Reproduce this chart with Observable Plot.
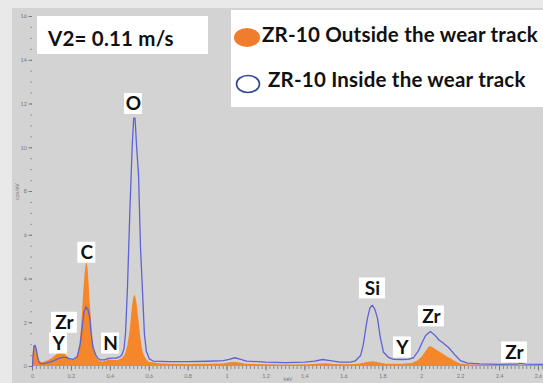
<!DOCTYPE html>
<html><head><meta charset="utf-8">
<script src="https://cdn.jsdelivr.net/npm/d3@7"></script>
<script src="https://cdn.jsdelivr.net/npm/@observablehq/plot@0.6"></script>
<style>
html,body{margin:0;padding:0;background:#fff;}
#wrap{position:relative;width:543px;height:383px;overflow:hidden;font-family:Lato,"Open Sans",sans-serif;
  background:linear-gradient(#e9e9e9,#e9e9e9) 0 0/12px 100% no-repeat,linear-gradient(#e9e9e9,#e9e9e9) 0 0/100% 8px no-repeat,#d3d3d3;}
#wrap > svg.main{display:block;}
.t{position:absolute;z-index:3;font-weight:700;font-size:20.5px;line-height:20.5px;letter-spacing:0.2px;color:#111;white-space:nowrap;}
</style></head><body><div id="wrap"></div>
<script>
// ---- data (energy in keV, intensity in cps/eV) ----
const outsideKeV = [0,0.003,0.008,0.013,0.018,0.025,0.032,0.04,0.05,0.06,0.08,0.1,0.12,0.135,0.15,0.165,0.18,0.2,0.215,0.225,0.235,0.245,0.25,0.255,0.26,0.265,0.27,0.275,0.28,0.285,0.29,0.295,0.3,0.305,0.31,0.32,0.33,0.34,0.36,0.38,0.39,0.4,0.42,0.44,0.46,0.47,0.48,0.49,0.5,0.505,0.51,0.515,0.52,0.525,0.53,0.535,0.54,0.545,0.55,0.555,0.56,0.565,0.57,0.58,0.59,0.6,0.65,0.7,0.8,0.9,0.98,1.01,1.04,1.07,1.1,1.2,1.3,1.42,1.48,1.51,1.55,1.62,1.68,1.72,1.75,1.78,1.82,1.9,1.95,1.98,2.0,2.02,2.035,2.045,2.06,2.08,2.105,2.13,2.15,2.17,2.2,2.25,2.4,2.5,2.626];
const outsideCps = [0,0.5,0.92,0.95,0.85,0.55,0.3,0.2,0.18,0.2,0.26,0.35,0.5,0.6,0.65,0.6,0.45,0.3,0.27,0.35,0.6,1.1,1.6,2.2,2.9,3.6,4.2,4.6,4.75,4.5,3.9,3.1,2.5,1.9,1.3,0.7,0.4,0.27,0.2,0.24,0.3,0.3,0.27,0.27,0.35,0.45,0.6,0.95,1.5,1.9,2.4,2.8,3.1,3.25,3.2,3.0,2.65,2.25,1.85,1.45,1.1,0.8,0.6,0.4,0.28,0.2,0.13,0.1,0.09,0.1,0.12,0.16,0.2,0.15,0.1,0.08,0.07,0.08,0.12,0.13,0.09,0.08,0.1,0.18,0.22,0.17,0.1,0.1,0.14,0.25,0.4,0.65,0.85,0.92,0.85,0.73,0.6,0.45,0.35,0.24,0.12,0.07,0.05,0.06,0.05];

const insideKeV = [0,0.003,0.008,0.013,0.018,0.025,0.032,0.04,0.05,0.07,0.09,0.11,0.13,0.15,0.17,0.19,0.21,0.23,0.245,0.252,0.258,0.265,0.275,0.285,0.295,0.3,0.31,0.324,0.335,0.35,0.37,0.39,0.41,0.43,0.45,0.46,0.47,0.478,0.488,0.5,0.512,0.52,0.527,0.535,0.545,0.555,0.565,0.575,0.585,0.6,0.62,0.7,0.8,0.9,0.98,1.01,1.04,1.07,1.1,1.2,1.3,1.4,1.45,1.49,1.53,1.58,1.634,1.66,1.686,1.7,1.71,1.721,1.735,1.747,1.76,1.773,1.788,1.804,1.829,1.855,1.9,1.93,1.958,1.984,2.0,2.02,2.045,2.071,2.09,2.107,2.138,2.174,2.199,2.235,2.3,2.4,2.49,2.51,2.53,2.626];
const insideCps = [0,0.5,0.95,0.97,0.85,0.5,0.25,0.14,0.12,0.15,0.2,0.27,0.35,0.42,0.42,0.36,0.33,0.45,1.0,1.5,2.0,2.5,2.72,2.6,2.2,1.6,0.9,0.55,0.38,0.3,0.3,0.37,0.38,0.38,0.45,0.55,0.8,1.5,3.6,7.0,10.0,11.35,11.35,10.05,8.75,5.45,3.5,1.5,0.7,0.35,0.25,0.22,0.22,0.24,0.27,0.33,0.4,0.33,0.25,0.2,0.18,0.2,0.25,0.32,0.27,0.2,0.2,0.26,0.5,1.0,1.6,2.2,2.7,2.8,2.6,2.2,1.3,0.65,0.42,0.33,0.32,0.33,0.4,0.73,1.05,1.42,1.6,1.4,1.2,1.1,0.87,0.5,0.27,0.15,0.12,0.1,0.11,0.14,0.11,0.1];

const peakNames = ["Y","Zr","C","N","O","Si","Y","Zr","Zr"];
const peakKeV   = [0.134,0.164,0.279,0.401,0.519,1.747,1.901,2.050,2.477];
const peakCps   = [1.05,2.0,5.2,1.05,12.0,3.57,0.87,2.29,0.64];

const xMajorTicks = d3.range(0, 14).map(i => i / 5);
const xMinorTicks = d3.range(0, 132).map(i => i / 50);
const yMajorTicks = d3.range(0, 9).map(i => i * 2);
const yMinorTicks = d3.range(0, 33).map(i => i / 2);

const legendLabels = ["ZR-10 Outside the wear track", "ZR-10 Inside the wear track"];
const speedLabel = "V2= 0.11 m/s";

const ORANGE = "#f5862a", BLUE = "#5f62d6";
const short = peakNames.map(n => n.length === 1);
const long = peakNames.map(n => n.length > 1);

const chart = Plot.plot({
  width: 543, height: 383,
  marginLeft: 32, marginRight: 0, marginTop: 16, marginBottom: 17,
  x: {domain: [0, 2.626]},
  y: {domain: [0, 16]},
  className: "main",
  style: {background: "transparent", fontFamily: "Lato, sans-serif", overflow: "visible"},
  marks: [
    Plot.axisY({ticks: yMinorTicks, tickSize: 1.5, text: null, stroke: "#8a8a8a", label: null}),
    Plot.axisY({ticks: yMajorTicks, tickSize: 3.5, tickPadding: 2, fontSize: 5.5, color: "#7a7a7a",
      label: "cps/eV", labelAnchor: "center", labelOffset: 17, labelArrow: false}),
    Plot.axisX({ticks: xMinorTicks, tickSize: 3, text: null, stroke: "#8a8a8a", label: null}),
    Plot.axisX({ticks: xMajorTicks, tickSize: 4.5, tickPadding: 3, fontSize: 5.5, color: "#7a7a7a",
      tickFormat: d => d3.format("~g")(+d.toFixed(1)),
      label: "keV", labelAnchor: "center", labelOffset: 14, labelArrow: false}),
    Plot.areaY(outsideKeV, {x: outsideKeV, y: outsideCps, fill: ORANGE}),
    Plot.lineY(insideKeV, {x: insideKeV, y: insideCps, stroke: BLUE, strokeWidth: 1.3}),
    Plot.rect(peakNames, {filter: short, x1: peakKeV, x2: peakKeV, y1: peakCps, y2: peakCps, fill: "white",
      insetLeft: -9, insetRight: -9, insetTop: -10.5, insetBottom: -10.5}),
    Plot.rect(peakNames, {filter: long, x1: peakKeV, x2: peakKeV, y1: peakCps, y2: peakCps, fill: "white",
      insetLeft: -13, insetRight: -13, insetTop: -10.5, insetBottom: -10.5}),
    Plot.text(peakNames, {x: peakKeV, y: peakCps, text: peakNames, fontSize: 19, fontWeight: "bold",
      fill: "#111", lineAnchor: "middle"})
  ]
});

const wrap = document.getElementById("wrap");
wrap.appendChild(chart);

function add(css, txt, cls) {
  const e = document.createElement("div");
  if (cls) e.className = cls;
  e.style.cssText = css;
  if (txt != null) e.textContent = txt;
  wrap.appendChild(e); return e;
}
add("position:absolute;z-index:2;left:37px;top:16px;width:171px;height:38px;background-color:#ffffff;");
add("position:absolute;z-index:2;left:231px;top:10px;width:312px;height:97px;background-color:#ffffff;");
add("left:48px;top:27.8px;", speedLabel, "t");
add("left:262px;top:23.8px;", legendLabels[0], "t");
add("left:268px;top:69.3px;", legendLabels[1], "t");

const ns = "http://www.w3.org/2000/svg";
const sv = document.createElementNS(ns, "svg");
sv.setAttribute("width", 543); sv.setAttribute("height", 383);
sv.style.cssText = "position:absolute;left:0;top:0;z-index:4;pointer-events:none;";
const e1 = document.createElementNS(ns, "ellipse");
e1.setAttribute("cx", 247); e1.setAttribute("cy", 37.5); e1.setAttribute("rx", 13); e1.setAttribute("ry", 9.5);
e1.setAttribute("fill", "#ef7d2d");
const e2 = document.createElementNS(ns, "ellipse");
e2.setAttribute("cx", 248); e2.setAttribute("cy", 84); e2.setAttribute("rx", 11.5); e2.setAttribute("ry", 8.5);
e2.setAttribute("fill", "none"); e2.setAttribute("stroke", "#34478f"); e2.setAttribute("stroke-width", 1.6);
sv.appendChild(e1); sv.appendChild(e2);
wrap.appendChild(sv);
</script></body></html>
